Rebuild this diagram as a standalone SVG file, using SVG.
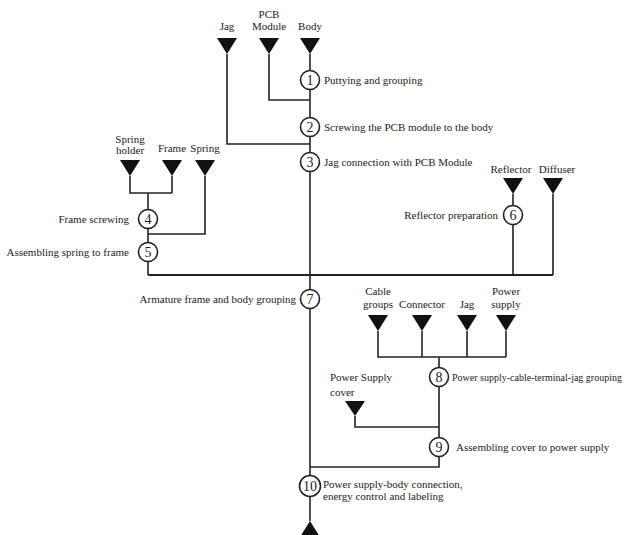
<svg xmlns="http://www.w3.org/2000/svg" width="638" height="535" viewBox="0 0 638 535" font-family="'Liberation Serif', 'Times New Roman', serif">
<style>
text{font-family:"Liberation Serif","Times New Roman",serif;font-size:11px;fill:#222}
.c{text-anchor:middle}
.e{text-anchor:end}
.num{font-size:14px;text-anchor:middle}
.ln{fill:none;stroke:#222;stroke-width:1.6}
.thick{stroke-width:2.2}
.tri{fill:#111}
.cir{fill:#fff;stroke:#222;stroke-width:1.6}
</style>
<rect width="638" height="535" fill="#fff"/>
<g id="connectors">
<path class="ln" d="M310,54 V521"/>
<path class="ln" d="M269,54 V100 H310"/>
<path class="ln" d="M227,54 V144 H310"/>
<path class="ln" d="M130,176 V193 H172 M172,176 V193 M148,193 V275"/>
<path class="ln" d="M205,176 V234 H148"/>
<path class="ln thick" d="M148,275 H553"/>
<path class="ln" d="M513,194 V275 M553,194 V275"/>
<path class="ln" d="M378,331 V357 H506 M422,331 V357 M467,331 V357 M506,331 V357"/>
<path class="ln" d="M439,357 V467 H310"/>
<path class="ln" d="M355,416 V427 H439"/>
</g>
<g id="src-jag"><polygon class="tri" points="217,38 237,38 227,54"/><text class="c" x="227" y="30">Jag</text></g>
<g id="src-pcb"><polygon class="tri" points="259,38 279,38 269,54"/><text class="c" x="269" y="18">PCB</text><text class="c" x="269" y="30">Module</text></g>
<g id="src-body"><polygon class="tri" points="300,38 320,38 310,54"/><text class="c" x="310" y="30">Body</text></g>
<g id="src-springholder"><polygon class="tri" points="120,160 140,160 130,176"/><text class="c" x="130" y="143">Spring</text><text class="c" x="130" y="154">holder</text></g>
<g id="src-frame"><polygon class="tri" points="162,160 182,160 172,176"/><text class="c" x="172" y="152">Frame</text></g>
<g id="src-spring"><polygon class="tri" points="195,160 215,160 205,176"/><text class="c" x="205" y="152">Spring</text></g>
<g id="src-reflector"><polygon class="tri" points="503,178 523,178 513,194"/><text class="c" x="511" y="173">Reflector</text></g>
<g id="src-diffuser"><polygon class="tri" points="543,178 563,178 553,194"/><text class="c" x="557" y="173">Diffuser</text></g>
<g id="src-cable"><polygon class="tri" points="368,315 388,315 378,331"/><text class="c" x="378" y="295">Cable</text><text class="c" x="378" y="308">groups</text></g>
<g id="src-connector"><polygon class="tri" points="412,315 432,315 422,331"/><text class="c" x="422" y="308">Connector</text></g>
<g id="src-jag2"><polygon class="tri" points="457,315 477,315 467,331"/><text class="c" x="467" y="308">Jag</text></g>
<g id="src-power"><polygon class="tri" points="496,315 516,315 506,331"/><text class="c" x="506" y="295">Power</text><text class="c" x="506" y="308">supply</text></g>
<g id="src-cover"><polygon class="tri" points="345,401 365,401 355,416"/><text x="330" y="381">Power Supply</text><text x="330" y="396">cover</text></g>
<g id="step1"><circle class="cir" cx="310" cy="80" r="9.5"/><text class="num" x="310" y="85">1</text><text x="324" y="83.5">Puttying and grouping</text></g>
<g id="step2"><circle class="cir" cx="310" cy="127" r="9.5"/><text class="num" x="310" y="132">2</text><text x="324" y="130.5">Screwing the PCB module to the body</text></g>
<g id="step3"><circle class="cir" cx="310" cy="162" r="9.5"/><text class="num" x="310" y="167">3</text><text x="324" y="165.5">Jag connection with PCB Module</text></g>
<g id="step4"><circle class="cir" cx="148" cy="219" r="9.5"/><text class="num" x="148" y="224">4</text><text class="e" x="129" y="222.5">Frame screwing</text></g>
<g id="step5"><circle class="cir" cx="148" cy="252" r="9.5"/><text class="num" x="148" y="257">5</text><text class="e" x="129" y="255.5">Assembling spring to frame</text></g>
<g id="step6"><circle class="cir" cx="513" cy="215" r="9.5"/><text class="num" x="513" y="220">6</text><text class="e" x="498" y="218.5">Reflector preparation</text></g>
<g id="step7"><circle class="cir" cx="310" cy="299" r="9.5"/><text class="num" x="310" y="304">7</text><text class="e" x="296" y="302.5">Armature frame and body grouping</text></g>
<g id="step8"><circle class="cir" cx="439" cy="377" r="9.5"/><text class="num" x="439" y="382">8</text><text x="452" y="380.5" style="font-size:10px">Power supply-cable-terminal-jag grouping</text></g>
<g id="step9"><circle class="cir" cx="439" cy="447" r="9.5"/><text class="num" x="439" y="452">9</text><text x="456" y="450.5">Assembling cover to power supply</text></g>
<g id="step10"><circle class="cir" cx="310" cy="486" r="10.5"/><text class="num" x="310" y="491">10</text><text x="323" y="488">Power supply-body connection,</text><text x="323" y="500">energy control and labeling</text></g>
<g id="output"><polygon class="tri" points="300,537 320,537 310,521"/></g>
</svg>
